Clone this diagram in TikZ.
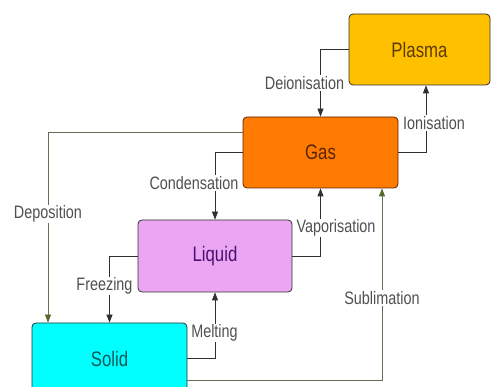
\documentclass[tikz,border=0pt]{standalone}
\usepackage{fontspec}
\usepackage{xcolor}
\usetikzlibrary{arrows.meta}

\newfontfamily\narrowfont[FakeStretch=0.8]{Liberation Sans}

\definecolor{plasmafill}{HTML}{FFC000}
\definecolor{plasmatext}{HTML}{5A3C00}
\definecolor{gasfill}{HTML}{FF7A00}
\definecolor{gastext}{HTML}{5A2300}
\definecolor{liquidfill}{HTML}{EBA6F3}
\definecolor{liquidtext}{HTML}{4A1070}
\definecolor{solidfill}{HTML}{00FFFF}
\definecolor{solidtext}{HTML}{0A5A5A}
\definecolor{labelgray}{HTML}{505050}
\definecolor{linegray}{HTML}{303030}
\definecolor{olivegray}{HTML}{6B6B55}
\definecolor{olivetip}{HTML}{556B2F}

\tikzset{
  state/.style={draw=linegray, rounded corners=4pt, line width=0.8pt, inner sep=0pt,
                font=\fontsize{21}{24}\narrowfont},
  trans/.style={fill=white, text=labelgray, inner sep=1pt,
                font=\fontsize{18}{20}\narrowfont},
  flow/.style={line width=0.8pt, draw=linegray, -{Triangle[length=8pt,width=6pt]}},
  soflow/.style={line width=0.8pt, draw=olivegray,
                 -{Triangle[length=8pt,width=6pt,color=olivetip]}}
}

\begin{document}
\begin{tikzpicture}[x=1pt, y=-1pt]
  \useasboundingbox (0, 0) rectangle (493, 387);

  % States
  \node[state, fill=plasmafill, text=plasmatext, minimum width=141pt, minimum height=71pt]
    (plasma) at (419.5, 49.5) {Plasma};
  \node[state, fill=gasfill, text=gastext, draw=gastext, minimum width=155pt, minimum height=71pt]
    (gas) at (320.5, 152.5) {Gas};
  \node[state, fill=liquidfill, text=liquidtext, minimum width=154pt, minimum height=72pt]
    (liquid) at (215, 256) {Liquid};
  \node[state, fill=solidfill, text=solidtext, minimum width=155pt, minimum height=71pt]
    (solid) at (109.5, 358.5) {Solid};

  % Transitions
  \draw[flow] (plasma.west) -| (gas.north);
  \draw[flow] (gas.east) -| ([xshift=6.5pt]plasma.south);
  \draw[flow] (gas.west) -| (liquid.north);
  \draw[soflow] ([yshift=20.5pt]gas.west) -| ([xshift=-61.5pt]solid.north);
  \draw[flow] (liquid.east) -| (gas.south);
  \draw[soflow] ([yshift=-21.5pt]solid.east) -| ([xshift=61.5pt]gas.south);
  \draw[flow] (liquid.west) -| (solid.north);
  \draw[flow] (solid.east) -| (liquid.south);

  % Transition labels
  \node[trans] (deion) at (304.5, 83)  {Deionisation};
  \node[trans] (ion)   at (434, 123)   {Ionisation};
  \node[trans] (cond)  at (194, 183)   {Condensation};
  \node[trans] (depo)  at (48, 214)    {Deposition};
  \node[trans] (vapo)  at (336, 228)   {Vaporisation};
  \node[trans] (subl)  at (382, 298)   {Sublimation};
  \node[trans] (freez) at (104.5, 286) {Freezing};
  \node[trans] (melt)  at (214.5, 333) {Melting};
\end{tikzpicture}
\end{document}
